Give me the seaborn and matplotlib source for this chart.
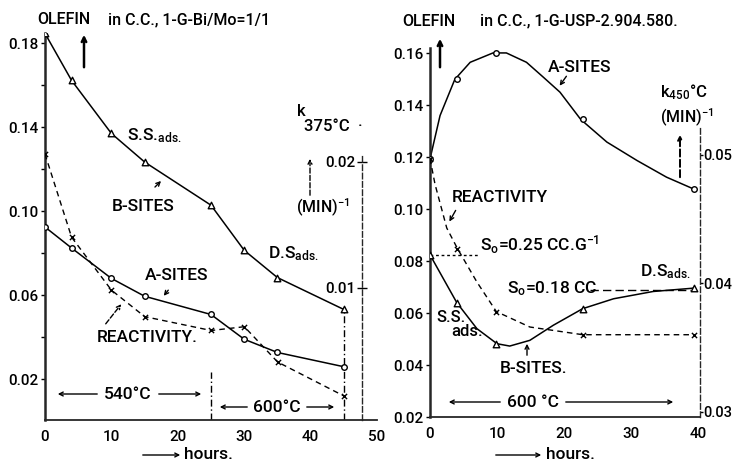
import matplotlib
matplotlib.use("Agg")
import matplotlib.pyplot as plt
import seaborn as sns

sns.set_style("ticks")
plt.rcParams['font.family'] = ['Roboto', 'DejaVu Sans']
plt.rcParams['font.weight'] = 'medium'
plt.rcParams['mathtext.fontset'] = 'custom'
plt.rcParams['mathtext.rm'] = 'Roboto:medium'
plt.rcParams['mathtext.it'] = 'Roboto:medium'
plt.rcParams['text.color'] = 'black'
plt.rcParams['xtick.color'] = 'black'
plt.rcParams['ytick.color'] = 'black'

# --- data ---
# left panel: catalyst Bi/Mo = 1/1, olefin adsorbed (cc/g) and k at 375 C
bimo_hours = [0, 4, 10, 15, 25, 30, 35, 45]
bimo_b_sites = [0.1848, 0.1624, 0.1371, 0.1235, 0.1029, 0.0814, 0.0684, 0.0532]
bimo_a_sites = [0.0925, 0.0825, 0.0680, 0.0595, 0.0508, 0.0390, 0.0327, 0.0259]
bimo_reactivity = [0.0206, 0.0140, 0.0098, 0.0077, 0.0066, 0.0069, 0.0041, 0.0014]
bimo_switch_hour = 25          # 540 C -> 600 C

# right panel: catalyst USP-2.904.580, k at 450 C
usp_hours = [0, 4, 9.8, 22.8, 39.4]
usp_a_sites = [0.1193, 0.1499, 0.1601, 0.1345, 0.1078]
usp_b_sites = [0.0824, 0.0640, 0.0482, 0.0617, 0.0696]
usp_reactivity = [0.0497, 0.0427, 0.0378, 0.0360, 0.0360]

# points along the hand drawn curves (right panel)
usp_a_curve_h = [0, 1.5, 3.7, 6.0, 9.4, 11.4, 14.4, 16.9, 19.4, 22.5, 26.4, 30.9, 35.3, 39.3]
usp_a_curve = [0.1193, 0.136, 0.1499, 0.1565, 0.1601, 0.1601, 0.1565, 0.1508, 0.145,
               0.1345, 0.1258, 0.1187, 0.1123, 0.1078]
usp_b_curve_h = [0, 2.0, 4.0, 7.0, 10.0, 11.9, 14.9, 18.4, 22.8, 27.4, 33.3, 39.4]
usp_b_curve = [0.0824, 0.0732, 0.064, 0.054, 0.0482, 0.0473, 0.0495, 0.0553, 0.0617,
               0.0655, 0.0683, 0.0696]
usp_r_curve_h = [0, 0.75, 2.5, 4.1, 7.0, 9.9, 14.9, 22.8, 39.6]
usp_r_curve = [0.0497, 0.0477, 0.0443, 0.0427, 0.0401, 0.0378, 0.0366, 0.0360, 0.0360]

so_high = 0.0824   # S0 = 0.25 cc/g level
so_low = 0.069     # S0 = 0.18 cc level

W, H = 732, 461


def fx(px):
    return px / W


def fy(py):
    return 1 - py / H


def ftext(px, py, s, size=12.5, ha='left', va='center', **kw):
    fig.text(fx(px), fy(py), s, fontsize=size, ha=ha, va=va, **kw)


def farrow(x0, y0, x1, y1, ls='-', lw=1.0, head=7):
    fig.add_artist(matplotlib.patches.FancyArrowPatch(
        (fx(x0), fy(y0)), (fx(x1), fy(y1)), transform=fig.transFigure,
        arrowstyle='->', mutation_scale=head, lw=lw, ls=ls, color='black'))


def markers(ax, x, y, m, size=22):
    if m == 'x':
        sns.scatterplot(x=x, y=y, ax=ax, marker='x', s=size, color='black', linewidth=1.0, zorder=4)
    else:
        sns.scatterplot(x=x, y=y, ax=ax, marker=m, s=size, facecolor='white',
                        edgecolor='black', linewidth=1.0, zorder=4)


fig = plt.figure(figsize=(W / 100, H / 100), dpi=100)
tick_font = 11

# ---------------- left panel ----------------
ax = fig.add_axes([fx(45), 41 / H, 332 / W, 387 / H])
ax_k = fig.add_axes([fx(45), 41 / H, 317 / W, 387 / H])
ax_k.patch.set_visible(False)

sns.lineplot(x=bimo_hours, y=bimo_b_sites, ax=ax, color='black', lw=1.1)
markers(ax, bimo_hours, bimo_b_sites, '^')
sns.lineplot(x=bimo_hours, y=bimo_a_sites, ax=ax, color='black', lw=1.1)
markers(ax, bimo_hours, bimo_a_sites, 'o', 16)
sns.lineplot(x=bimo_hours, y=bimo_reactivity, ax=ax_k, color='black', lw=1.0)
ax_k.lines[-1].set_dashes((4, 3))
markers(ax_k, bimo_hours, bimo_reactivity, 'x', 14)

ax.vlines(bimo_hours[-1], 0.0005, bimo_b_sites[-1], colors='black', lw=1.0, linestyles=(0, (5, 2, 1, 2)))
ax.vlines(bimo_switch_hour, 0.0005, 0.0234, colors='black', lw=1.0, linestyles=(0, (5, 2, 1, 2)))

ax.set_xlim(0, 50)
ax.set_ylim(0.0005, 0.185)
ax.set_xticks([0, 10, 20, 30, 40, 50])
yt = [0.02, 0.04, 0.06, 0.08, 0.10, 0.12, 0.14, 0.16, 0.18]
ax.set_yticks(yt)
ax.set_yticklabels([f'{v:.2f}' if i % 2 == 0 else '' for i, v in enumerate(yt)])
ax.tick_params(labelsize=tick_font, length=3, width=1.0, pad=2)
ax.tick_params(axis='x', length=0, pad=7)
for s in ['top', 'right']:
    ax.spines[s].set_visible(False)
ax.spines['left'].set_linewidth(1.8)
ax.spines['bottom'].set_linewidth(1.3)

ax_k.set_xlim(0, 47.7)
ax_k.set_ylim(-0.0005, 0.0302)
ax_k.xaxis.set_visible(False)
for s in ['top', 'left', 'bottom']:
    ax_k.spines[s].set_visible(False)
ax_k.spines['right'].set_linestyle((0, (4, 2)))
ax_k.spines['right'].set_linewidth(1.0)
ax_k.spines['right'].set_bounds(-0.0005, 0.0206)
ax_k.yaxis.tick_right()
ax_k.set_yticks([0.01, 0.02])
ax_k.set_yticklabels(['0.01', '0.02'])
ax_k.tick_params(axis='y', direction='inout', length=7, width=1.0, pad=-8, labelsize=tick_font)
for lab in ax_k.get_yticklabels():
    lab.set_horizontalalignment('right')
ax_k.set_ylabel('')

# ---------------- right panel ----------------
ax2 = fig.add_axes([fx(430), 44 / H, 270 / W, 369 / H])
ax2_k = ax2.twinx()

sns.lineplot(x=usp_a_curve_h, y=usp_a_curve, ax=ax2, color='black', lw=1.1)
markers(ax2, usp_hours, usp_a_sites, 'o', 16)
sns.lineplot(x=usp_b_curve_h, y=usp_b_curve, ax=ax2, color='black', lw=1.1)
markers(ax2, usp_hours, usp_b_sites, '^')
sns.lineplot(x=usp_r_curve_h, y=usp_r_curve, ax=ax2_k, color='black', lw=1.0)
ax2_k.lines[-1].set_dashes((4, 3))
markers(ax2_k, usp_hours, usp_reactivity, 'x', 14)

ax2.hlines(so_high, 0, 7.2, colors='black', lw=1.0, linestyles=(0, (2, 2)))
ax2.hlines(so_low, 23.9, 38.9, colors='black', lw=1.0, linestyles=(0, (6, 3)))

ax2.set_xlim(0, 40.3)
ax2.set_ylim(0.02, 0.162)
ax2.set_xticks([0, 10, 20, 30, 40])
ax2.set_yticks([0.02, 0.04, 0.06, 0.08, 0.10, 0.12, 0.14, 0.16])
ax2.set_yticklabels([f'{v:.2f}' for v in ax2.get_yticks()])
ax2.tick_params(labelsize=tick_font, length=3, width=1.0, pad=2)
ax2.tick_params(axis='x', length=0, pad=7)
ax2.spines['top'].set_visible(False)
ax2.spines['right'].set_visible(False)
ax2.spines['left'].set_linewidth(1.8)
ax2.spines['bottom'].set_linewidth(1.3)

ax2_k.set_ylim(0.0296, 0.0583)
ax2_k.set_yticks([0.03, 0.04, 0.05])
ax2_k.set_yticklabels(['0.03', '0.04', '0.05'])
ax2_k.tick_params(axis='y', length=2, width=1.0, pad=0.3, labelsize=10.5)
for s in ['top', 'left', 'bottom']:
    ax2_k.spines[s].set_visible(False)
ax2_k.spines['right'].set_linestyle((0, (4, 2)))
ax2_k.spines['right'].set_linewidth(1.0)
ax2_k.spines['right'].set_bounds(0.0296, 0.0522)
ax2_k.set_ylabel('')

# ---------------- annotations, left ----------------
ftext(37, 20, 'OLEFIN', 11.5)
ftext(108, 20, 'in C.C., 1-G-Bi/Mo=1/1', 11.5)
farrow(84, 70, 84, 32, lw=1.8, head=8)
ftext(127, 136, 'S.S.$_{\\mathregular{ads.}}$')
ftext(112, 206, 'B-SITES')
farrow(153, 189, 163, 179)
ftext(268, 254, 'D.S$_{\\mathregular{ads.}}$')
ftext(145, 275, 'A-SITES')
farrow(170, 288, 162, 298)
ftext(97, 338, 'REACTIVITY.')
farrow(104, 326, 123, 302, ls='--')
ftext(297, 111, 'k', 12)
ftext(304, 126, '375°C  ·', 12)
farrow(310, 198, 310, 156, ls='--')
ftext(296, 208, '(MIN)$^{\\mathregular{-1}}$', 11.5)
ftext(128, 394, '540°C', ha='center')
farrow(100, 394, 55, 394)
farrow(156, 394, 204, 394)
ftext(277, 407, '600°C', ha='center')
farrow(250, 407, 217, 407)
farrow(304, 407, 337, 407)
farrow(140, 455, 183, 455)
ftext(184, 454, 'hours.')

# ---------------- annotations, right ----------------
ftext(402, 21, 'OLEFIN', 11.5)
ftext(480, 21, 'in C.C., 1-G-USP-2.904.580.', 11.5)
farrow(440, 70, 440, 36, lw=1.8, head=8)
ftext(548, 67, 'A-SITES')
farrow(568, 74, 558, 88)
ftext(660, 92, 'k$_{\\mathregular{450}}$°C', 12)
ftext(660, 118, '(MIN)$^{\\mathregular{-1}}$', 11.5)
farrow(680, 180, 680, 132, ls='--', lw=1.4)
ftext(452, 197, 'REACTIVITY')
farrow(457, 208, 448, 224)
ftext(480, 245, 'S$_{\\mathregular{o}}$=0.25 CC.G$^{\\mathregular{-1}}$')
ftext(507, 289, 'S$_{\\mathregular{o}}$=0.18 CC')
ftext(640, 272, 'D.S$_{\\mathregular{ads.}}$')
ftext(436, 318, 'S.S.', 12)
ftext(451, 332, 'ads.', 12)
ftext(500, 368, 'B-SITES.')
farrow(527, 358, 527, 341)
ftext(533, 402, '600 °C', ha='center')
farrow(503, 402, 446, 402)
farrow(563, 402, 676, 402)
farrow(493, 455, 544, 455)
ftext(546, 454, 'hours.')

fig.savefig('out.png', dpi=100)
